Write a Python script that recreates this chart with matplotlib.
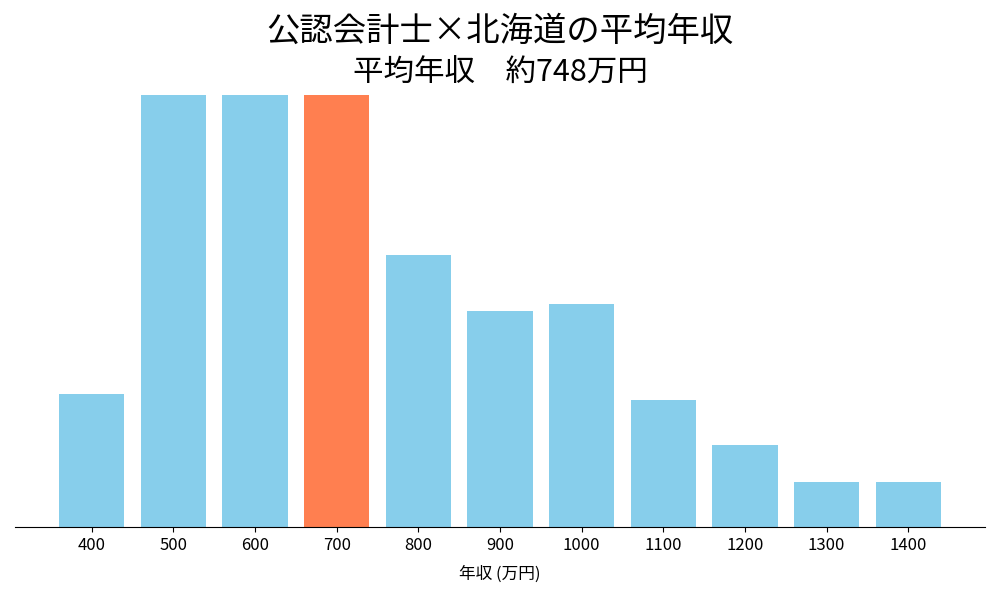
import matplotlib.pyplot as plt

plt.rcParams['font.family'] = ['Noto Sans CJK JP', 'DejaVu Sans']

# 年収帯（万円）と各帯の高さ（相対値）
nenshu = [400, 500, 600, 700, 800, 900, 1000, 1100, 1200, 1300, 1400]
wariai = [13.3, 43.2, 43.2, 43.2, 27.2, 21.6, 22.3, 12.7, 8.2, 4.5, 4.5]
heikin_bin = 700
heikin = 748

colors = ['coral' if n == heikin_bin else 'skyblue' for n in nenshu]

fig = plt.figure(figsize=(10, 6), dpi=100)
ax = fig.add_axes([0.015, 0.122, 0.97, 0.72])
ax.bar(nenshu, wariai, width=80, color=colors)
ax.set_ylim(0, max(wariai))
ax.set_xticks(nenshu)
ax.tick_params(axis='x', labelsize=12)
ax.set_yticks([])
for s in ['left', 'right', 'top']:
    ax.spines[s].set_visible(False)
ax.set_xlabel("年収 (万円)", fontsize=12, labelpad=9)

fig.text(0.5, 0.948, "公認会計士×北海道の平均年収", ha='center', va='center', fontsize=24)
fig.text(0.5, 0.878, f"平均年収　約{heikin}万円", ha='center', va='center', fontsize=22)

plt.savefig("out.png")
